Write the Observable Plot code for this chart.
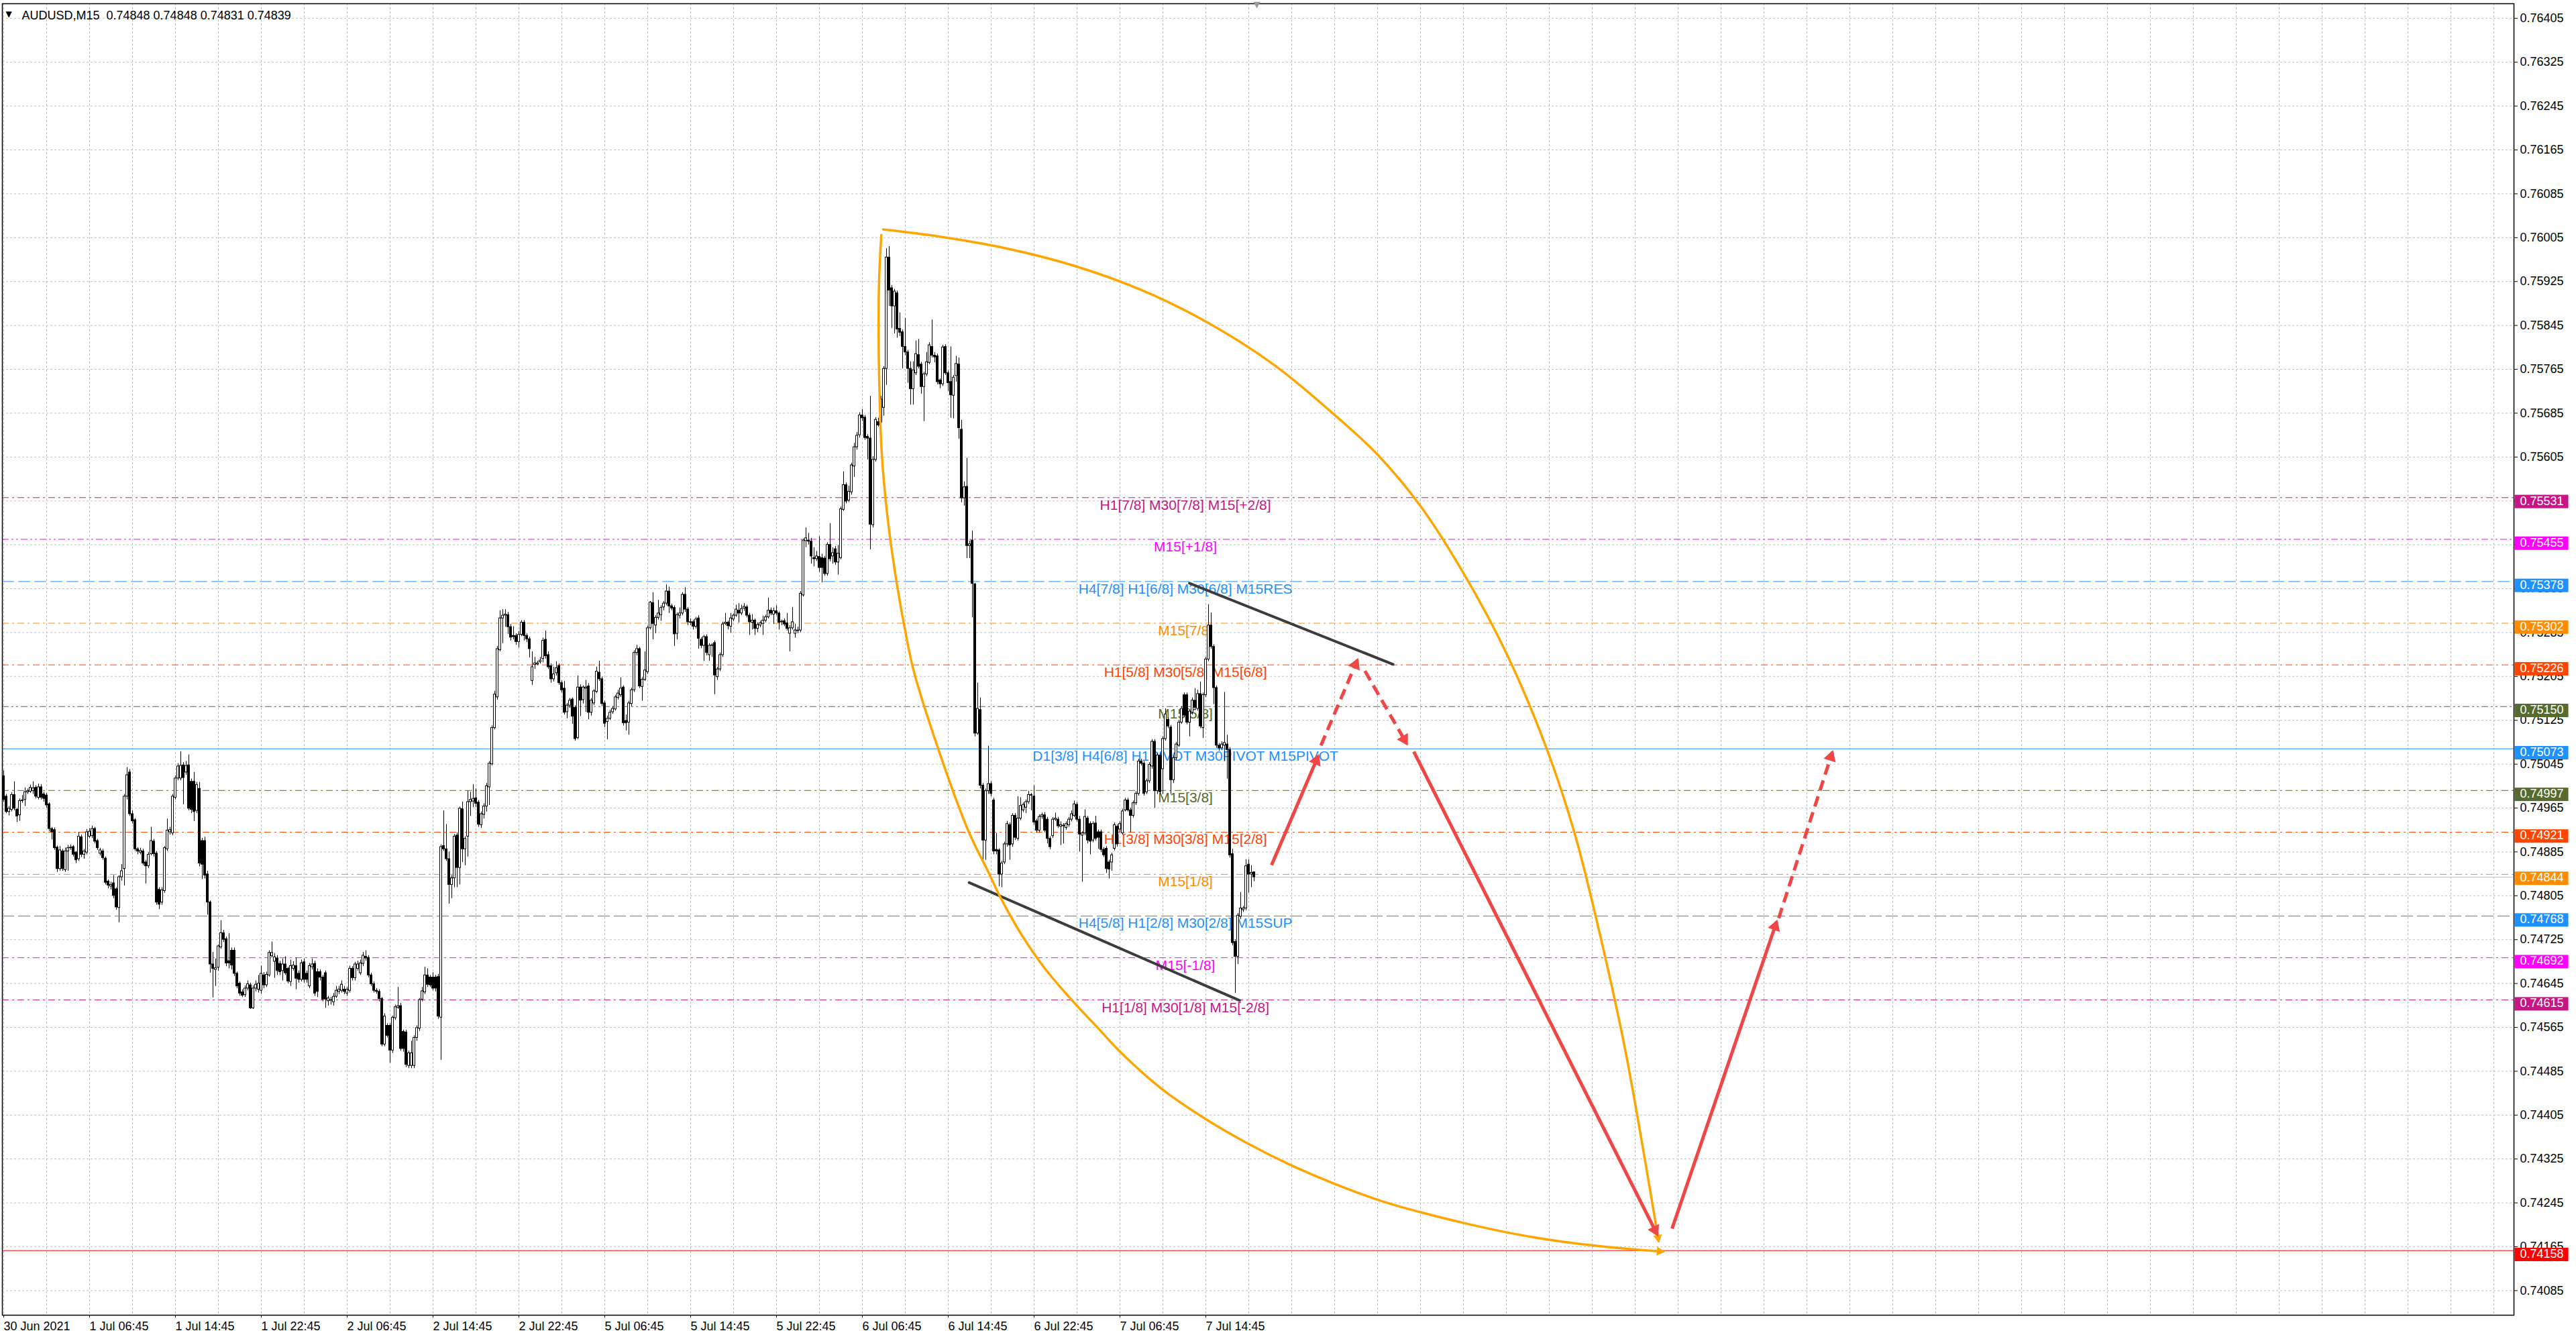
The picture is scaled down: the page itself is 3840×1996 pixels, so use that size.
<!DOCTYPE html>
<html>
<head>
<meta charset="utf-8">
<script src="https://cdn.jsdelivr.net/npm/d3@7"></script>
<script src="https://cdn.jsdelivr.net/npm/@observablehq/plot@0.6"></script>
<style>
  html, body { margin: 0; padding: 0; background: #fff; overflow: hidden; }
</style>
</head>
<body>
<div id="chart"></div>
<script>
// AUDUSD M15, one value per bar, in points above 0.74000
const symbol = "AUDUSD,M15";
const O = [1023,986,958,962,989,962,952,978,980,994, 995,996,1002,984,1003,990,988,972,927,925, 893,854,886,852,886,892,894,884,872,912, 880,884,913,914,927,905,882,886,873,831, 822,828,817,783,839,854,986,1030,954,943, 890,884,886,866,859,881,904,882,816,793, 814,890,921,919,984,1019,1019,1043,1030,1043, 1013,1013,960,1000,905,905,844,793,680,670, 674,711,737,726,686,705,705,663,645,629, 624,636,642,600,636,634,632,660,642,660, 695,685,691,681,668,680,672,648,672,677, 663,652,684,663,640,675,681,666,666,656, 664,613,614,611,621,630,632,634,627,632, 672,655,672,664,681,694,692,660,644,632, 630,617,534,568,568,523,582,601,604,557, 556,495,495,495,546,563,616,629,660,656, 656,656,657,583,896,890,872,825,837,915, 856,963,890,913,976,977,983,975,934,953, 968,1003,1045,1111,1167,1253,1311,1316,1317,1295, 1279,1279,1268,1281,1303,1279,1273,1197,1226,1227, 1231,1237,1272,1244,1224,1200,1211,1224,1193,1183, 1140,1152,1163,1148,1093,1185,1162,1183,1187,1139, 1156,1177,1212,1200,1156,1122,1128,1140,1145,1166, 1171,1185,1124,1121,1155,1180,1248,1255,1186,1199, 1213,1293,1339,1298,1312,1317,1331,1338,1360,1333, 1330,1283,1316,1320,1354,1327,1304,1304,1296,1311, 1272,1261,1277,1244,1261,1266,1204,1218,1244,1301, 1303,1296,1309,1316,1325,1320,1329,1331,1316,1303, 1307,1292,1298,1301,1307,1313,1325,1318,1324,1320, 1305,1306,1302,1283,1293,1283,1288,1289,1353,1452, 1453,1451,1421,1419,1423,1421,1420,1392,1445,1424, 1437,1413,1421,1509,1554,1526,1541,1588,1623,1645, 1681,1677,1642,1639,1481,1600,1669,1668,1695,1766, 1969,1913,1880,1904,1839,1833,1806,1796,1766,1729, 1758,1791,1774,1733,1756,1777,1806,1790,1789,1745, 1738,1806,1758,1742,1717,1753,1774,1655,1530,1551, 1443,1453,1373,1101,1144,1006,906,996,1009,979, 889,888,844,866,899,934,899,951,909,946, 961,966,976,989,986,941,924,949,952,944, 909,914,944,944,931,933,929,934,944,951, 971,944,915,919,946,936,906,937,921,921, 889,891,866,866,891,931,926,919,961,979, 961,951,974,991,1050,1046,994,1014,1041,1086, 996,1061,1036,1091,1126,1112,1016,1056,1079,1121, 1171,1171,1121,1139,1161,1146,1173,1111,1171,1236, 1298,1259,1184,1079,1074,1079,1081,1071,881,721, 694,767,779,782,862,844,848];
const H = [1033,990,968,993,1013,965,982,988,1002,1000, 1007,1013,1006,1009,1008,994,992,975,930,929, 896,895,890,892,897,898,897,886,921,916, 890,926,928,932,930,908,892,890,876,834, 830,842,820,842,862,990,1039,1035,960,946, 893,892,890,870,884,930,908,886,820,820, 895,945,930,990,1024,1046,1068,1048,1050,1062, 1018,1030,1012,1012,910,912,850,796,702,690, 716,760,742,730,736,710,710,666,648,634, 641,650,646,641,650,660,677,665,666,705, 721,700,696,686,690,694,675,688,685,692, 668,688,690,668,682,690,686,672,670,660, 668,622,620,627,640,640,650,640,638,677, 676,684,686,688,702,705,696,664,648,636, 634,620,590,572,572,586,606,638,609,560, 560,522,540,550,568,618,638,675,672,660, 665,660,662,898,960,935,885,842,917,920, 967,976,913,996,994,1008,1000,979,958,973, 1010,1050,1115,1178,1260,1325,1327,1327,1322,1300, 1296,1283,1287,1307,1307,1283,1277,1250,1240,1233, 1240,1275,1288,1250,1228,1222,1232,1228,1197,1196, 1156,1165,1166,1152,1206,1190,1188,1198,1192,1165, 1181,1222,1233,1204,1160,1133,1144,1150,1171,1180, 1203,1188,1135,1160,1184,1252,1262,1258,1203,1250, 1297,1342,1358,1316,1344,1334,1342,1372,1368,1337, 1334,1321,1330,1358,1367,1331,1310,1308,1313,1316, 1276,1280,1281,1265,1265,1270,1222,1248,1304,1320, 1306,1320,1319,1335,1338,1335,1338,1335,1320,1318, 1310,1303,1306,1315,1317,1348,1330,1330,1334,1323, 1308,1310,1320,1298,1331,1300,1295,1360,1456,1476, 1466,1457,1440,1433,1460,1428,1424,1449,1484,1440, 1442,1444,1514,1578,1558,1552,1594,1630,1650,1686, 1692,1681,1646,1716,1606,1677,1676,1716,1770,1985, 1989,1918,1911,1908,1868,1837,1858,1800,1779,1779, 1817,1820,1778,1760,1796,1814,1855,1796,1793,1748, 1809,1810,1762,1806,1754,1789,1786,1672,1560,1603, 1452,1470,1375,1193,1166,1010,1000,1078,1013,983, 919,891,868,903,941,938,955,955,986,984, 975,980,996,992,1006,945,953,956,957,948, 913,948,956,948,940,937,940,948,960,978, 975,950,922,962,950,940,940,950,925,925, 893,895,870,883,938,935,940,963,983,983, 965,978,995,1054,1054,1050,1018,1048,1090,1090, 1065,1065,1095,1146,1130,1116,1060,1085,1125,1150, 1175,1175,1145,1166,1183,1180,1195,1175,1240,1336, 1321,1263,1188,1083,1086,1176,1098,1075,890,725, 773,811,786,871,871,860,848];
const L = [976,955,951,958,960,939,941,974,968,990, 992,990,982,980,980,976,965,922,907,888, 848,850,850,848,850,888,876,864,868,875, 872,880,910,910,900,888,878,870,825,818, 816,800,779,756,832,823,980,950,936,886, 880,880,860,827,855,878,876,788,780,788, 810,886,916,915,980,1015,1015,971,1025,960, 955,941,955,858,835,836,770,664,619,640, 668,708,720,676,672,670,658,636,622,620, 620,632,598,598,630,628,626,636,638,657, 692,655,660,660,650,660,645,640,668,634, 646,648,646,646,636,670,622,620,650,612, 600,604,606,604,618,625,628,625,622,628, 650,650,668,660,676,686,656,640,628,626, 612,530,530,546,500,518,578,598,522,520, 492,490,490,490,540,558,612,625,638,638, 632,630,580,505,886,868,790,800,820,820, 825,866,860,876,950,966,966,930,928,945, 958,970,1042,1108,1162,1250,1265,1295,1282,1270, 1272,1262,1257,1278,1270,1267,1239,1189,1218,1225, 1228,1230,1237,1218,1193,1195,1206,1189,1175,1135, 1128,1147,1118,1087,1090,1132,1155,1140,1126,1133, 1152,1174,1196,1150,1112,1090,1125,1136,1142,1162, 1167,1115,1106,1098,1150,1176,1243,1183,1160,1196, 1209,1290,1272,1283,1308,1306,1325,1334,1320,1325, 1260,1272,1310,1316,1322,1298,1298,1290,1292,1255, 1256,1233,1243,1233,1240,1172,1198,1214,1240,1298, 1290,1284,1305,1313,1303,1316,1324,1312,1280,1290, 1280,1285,1294,1280,1303,1310,1316,1300,1316,1290, 1298,1296,1288,1250,1290,1275,1283,1285,1350,1440, 1445,1410,1405,1415,1395,1376,1388,1388,1414,1410, 1408,1390,1418,1506,1520,1522,1536,1568,1618,1640, 1670,1636,1600,1436,1476,1596,1660,1664,1680,1736, 1880,1840,1830,1822,1825,1766,1790,1740,1700,1700, 1754,1766,1720,1670,1752,1774,1786,1777,1737,1730, 1734,1754,1725,1676,1675,1742,1638,1522,1516,1420, 1420,1312,1095,1098,1000,870,870,990,986,880, 880,822,820,862,894,870,894,906,905,942, 957,955,972,960,934,920,920,945,920,900, 889,910,941,928,897,900,925,930,940,948, 940,885,830,915,900,880,902,905,890,884, 875,846,836,850,887,894,920,916,958,958, 920,947,970,987,1042,987,990,1010,1036,965, 990,990,990,1087,1110,990,1010,1052,1076,1118, 1130,1117,1095,1135,1144,1142,1110,1092,1167,1232, 1255,1154,1074,1069,1070,1050,1018,874,714,627, 680,762,775,778,810,820,831];
const C = [980,958,964,989,964,950,978,979,994,996, 1002,1001,986,1003,984,982,970,927,921,892, 854,888,854,886,892,893,880,870,913,880, 886,921,922,927,904,892,888,874,829,824, 825,805,784,839,850,986,1025,954,941,890, 886,887,864,859,880,905,881,793,789,815, 892,924,925,986,1019,1041,1042,1020,1042,964, 962,958,1007,864,862,842,793,680,672,673, 713,737,725,682,682,678,663,640,627,623, 636,644,600,636,643,645,663,642,661,701, 701,693,668,666,680,664,649,677,678,654, 652,682,652,652,677,680,627,630,656,616, 616,618,615,621,632,634,643,630,634,672, 655,680,680,682,696,691,660,644,632,630, 617,534,585,550,523,583,602,604,526,526, 497,518,518,546,564,615,631,660,643,642, 636,636,585,894,890,872,825,837,913,856, 964,890,909,976,980,982,973,935,954,968, 1005,1046,1111,1172,1255,1311,1316,1318,1295,1276, 1277,1268,1281,1303,1279,1273,1255,1222,1229,1229, 1234,1270,1242,1222,1200,1209,1220,1193,1180,1139, 1152,1161,1132,1091,1185,1161,1185,1185,1139,1161, 1178,1214,1200,1155,1119,1128,1139,1146,1167,1174, 1183,1120,1120,1156,1180,1248,1255,1187,1199,1216, 1293,1340,1301,1312,1320,1330,1338,1360,1333,1329, 1282,1317,1320,1354,1327,1304,1303,1296,1309,1274, 1261,1277,1248,1261,1262,1207,1218,1244,1300,1303, 1297,1311,1316,1327,1320,1328,1332,1316,1304,1307, 1292,1299,1302,1307,1313,1325,1320,1324,1320,1303, 1304,1300,1292,1293,1304,1289,1289,1356,1453,1457, 1451,1424,1419,1424,1403,1403,1392,1445,1419,1430, 1413,1429,1510,1554,1524,1542,1590,1623,1644,1681, 1676,1640,1639,1482,1600,1673,1663,1710,1766,1969, 1909,1880,1907,1838,1832,1806,1796,1766,1729,1763, 1793,1770,1733,1756,1778,1809,1790,1787,1742,1738, 1805,1758,1740,1718,1750,1775,1658,1530,1550,1443, 1446,1374,1101,1146,1006,906,996,1009,991,886, 886,844,864,899,936,897,951,911,946,969, 971,976,989,988,939,924,949,952,924,909, 894,944,946,932,934,932,936,944,954,972, 944,917,919,949,906,904,936,909,911,889, 879,854,853,879,934,899,936,959,979,961, 951,974,991,1050,1046,991,1014,1044,1086,996, 1061,994,1091,1136,1114,1016,1056,1081,1121,1146, 1134,1121,1141,1161,1148,1173,1114,1171,1236,1298, 1259,1184,1079,1074,1081,1084,1071,879,719,694, 769,782,782,859,844,847,839];

// time axis: bar index of each label
const xTickBars = [0, 32, 64, 96, 128, 160, 192, 224, 256, 288, 320, 352, 384, 416, 448];
const xTickLabels = ["30 Jun 2021", "1 Jul 06:45", "1 Jul 14:45", "1 Jul 22:45", "2 Jul 06:45",
  "2 Jul 14:45", "2 Jul 22:45", "5 Jul 06:45", "5 Jul 14:45", "5 Jul 22:45", "6 Jul 06:45",
  "6 Jul 14:45", "6 Jul 22:45", "7 Jul 06:45", "7 Jul 14:45"];
const yTicks = [0.76405, 0.76325, 0.76245, 0.76165, 0.76085, 0.76005, 0.75925, 0.75845, 0.75765,
  0.75685, 0.75605, 0.75525, 0.75445, 0.75365, 0.75285, 0.75205, 0.75125, 0.75045, 0.74965,
  0.74885, 0.74805, 0.74725, 0.74645, 0.74565, 0.74485, 0.74405, 0.74325, 0.74245, 0.74165, 0.74085];

// murrey levels
const levelPrice = [0.75531, 0.75455, 0.75378, 0.75302, 0.75226, 0.75150, 0.75073,
  0.74997, 0.74921, 0.74844, 0.74768, 0.74692, 0.74615];
const levelKind = ["p2", "p1", "res", "n7", "n6", "n5", "pivot", "n3", "n2", "n1", "sup", "m1", "m2"];
const levelText = ["H1[7/8] M30[7/8] M15[+2/8]", "M15[+1/8]", "H4[7/8] H1[6/8] M30[6/8] M15RES",
  "M15[7/8]", "H1[5/8] M30[5/8] M15[6/8]", "M15[5/8]", "D1[3/8] H4[6/8] H1PIVOT M30PIVOT M15PIVOT",
  "M15[3/8]", "H1[3/8] M30[3/8] M15[2/8]", "M15[1/8]", "H4[5/8] H1[2/8] M30[2/8] M15SUP",
  "M15[-1/8]", "H1[1/8] M30[1/8] M15[-2/8]"];
const targetPrice = 0.74158;

// drawn objects: [bar, price]
const arcLeft = [[327.08, 0.7601], [326.25, 0.75928], [326.08, 0.75822], [326.43, 0.75716],
  [327.25, 0.7561], [329.18, 0.75504], [332.08, 0.75398], [335.83, 0.75292], [339.58, 0.75207],
  [358.75, 0.74932], [367.08, 0.74847], [371.25, 0.74804], [379.58, 0.74732], [387.93, 0.74673],
  [398.75, 0.74611], [407.38, 0.74566], [415.98, 0.74521], [431.78, 0.74452], [447.58, 0.74399],
  [463.38, 0.74354], [479.18, 0.74315], [496.4, 0.74279], [513.63, 0.74248], [528, 0.74228],
  [545.23, 0.74207], [562.45, 0.74189], [579.68, 0.74175], [596.9, 0.74165], [618.45, 0.74156]];
const arcRight = [[327.75, 0.7602], [348.75, 0.76007], [371.25, 0.75988], [398.75, 0.75954],
  [423.75, 0.7591], [448.75, 0.7585], [473.75, 0.75772], [498.75, 0.7567],
  [512.08, 0.75609], [527.93, 0.75516], [544.18, 0.75392], [560.43, 0.75243], [575.43, 0.75068],
  [585.43, 0.74919], [595.43, 0.74723], [604.18, 0.74527], [612.08, 0.74311], [616.75, 0.74175]];
const trendLines = [[441.9, 0.75375, 517.8, 0.75227], [359.8, 0.74829, 460.6, 0.74614]];
const arrowsSolid = [[472.5, 0.74861, 489.9, 0.7506], [525.5, 0.75068, 616.25, 0.74187],
  [621.75, 0.74198, 660.75, 0.74758]];
const arrowsDashed = [[490.9, 0.75079, 504.5, 0.75235], [507.3, 0.75215, 522.9, 0.75082],
  [661.5, 0.74764, 681.5, 0.75067]];

// styles
const dashDot = "10,5,3,5";
const dashDotDot = "10,4,3,4,3,4";
const levelStyle = {
  p2: {color: "#C71585", dash: dashDot}, m2: {color: "#C71585", dash: dashDot},
  p1: {color: "#FF00FF", dash: dashDotDot}, m1: {color: "#FF00FF", dash: dashDot},
  res: {color: "#1E90FF", dash: "18,6"}, sup: {color: "#1E90FF", dash: "18,6"},
  n7: {color: "#FF8C00", dash: dashDot}, n1: {color: "#FF8C00", dash: dashDot},
  n6: {color: "#FF4500", dash: dashDot}, n2: {color: "#FF4500", dash: dashDot},
  n5: {color: "#556B2F", dash: dashDotDot}, n3: {color: "#556B2F", dash: dashDot},
  pivot: {color: "#1E90FF", dash: null}
};
const labelBar = 440.4;
const red = "#F04646";
const orange = "#FFA500";
const grey = "#c0c0c0";

// plot geometry
const W = 3840, HT = 1996, mL = 3, mR = 93, mT = 5, mB = 36;
const xDomain = [-0.5, 935.5];
const yDomain = [0.740402, 0.764317];
const kx = (W - mL - mR) / (xDomain[1] - xDomain[0]);
const ky = (HT - mT - mB) / (yDomain[1] - yDomain[0]);

const px = (v) => 0.74 + v / 1e5;
const f5 = d3.format(".5f");
const bars = C.map((c, i) => ({i, o: px(O[i]), h: px(H[i]), l: px(L[i]), c: px(c)}));
const last = bars[bars.length - 1];
const levels = levelPrice.map((p, k) => ({p, kind: levelKind[k], text: levelText[k]}));
const boxes = levels.map((d) => ({p: d.p, color: levelStyle[d.kind].color}))
  .concat([{p: targetPrice, color: "#FF0000"}]);
const pts = (a) => a.map(([i, p]) => ({i, p}));
const segs = (a) => a.map(([i1, p1, i2, p2]) => ({i1, p1, i2, p2}));

// a filled triangle whose tip sits on the end of the segment
function head(i1, p1, i2, p2, size) {
  const dx = (i2 - i1) * kx, dy = -(p2 - p1) * ky;
  const len = Math.hypot(dx, dy);
  const back = size * 1.1;
  return {
    i: i2 - (dx / len) * back / kx,
    p: p2 + (dy / len) * back / ky,
    rotate: (Math.atan2(dx, -dy) * 180) / Math.PI
  };
}
const arrowHeads = segs(arrowsSolid.concat(arrowsDashed)).map((d) => head(d.i1, d.p1, d.i2, d.p2, 7));
const arcHeads = [
  head(...arcRight[arcRight.length - 2], ...arcRight[arcRight.length - 1], 5),
  head(...arcLeft[arcLeft.length - 2], ...arcLeft[arcLeft.length - 1], 5)
];

const chart = Plot.plot({
  width: W,
  height: HT,
  marginLeft: mL,
  marginRight: mR,
  marginTop: mT,
  marginBottom: mB,
  x: {domain: xDomain},
  y: {domain: yDomain},
  style: {
    fontFamily: "'Liberation Sans', Arial, sans-serif",
    fontSize: "18px",
    background: "white",
    color: "black"
  },
  marks: [
    Plot.gridX(d3.range(0, 936, 16), {stroke: grey, strokeOpacity: 1, strokeDasharray: "3,3"}),
    Plot.gridY(yTicks, {stroke: grey, strokeOpacity: 1, strokeDasharray: "3,3"}),
    ...Object.keys(levelStyle).map((kind) =>
      Plot.ruleY(levels.filter((d) => d.kind === kind), {
        y: "p", stroke: levelStyle[kind].color, strokeDasharray: levelStyle[kind].dash
      })),
    Plot.ruleY([last.c], {stroke: grey}),
    Plot.ruleY([targetPrice], {stroke: "#FF0000"}),
    Plot.text(levels, {
      x: labelBar, y: "p", text: "text", fill: (d) => levelStyle[d.kind].color,
      fontSize: 21, lineAnchor: "top", dy: 3
    }),
    // candles
    Plot.ruleX(bars, {x: "i", y1: "l", y2: "h", stroke: "black", strokeWidth: 1}),
    Plot.rect(bars.filter((d) => d.c >= d.o), {
      x1: (d) => d.i - 0.375, x2: (d) => d.i + 0.375, y1: "o", y2: "c",
      fill: "white", stroke: "black", strokeWidth: 1
    }),
    Plot.rect(bars.filter((d) => d.c < d.o), {
      x1: (d) => d.i - 0.375, x2: (d) => d.i + 0.375, y1: "o", y2: "c",
      fill: "black", stroke: "black", strokeWidth: 1
    }),
    // drawings
    Plot.link(segs(trendLines), {
      x1: "i1", y1: "p1", x2: "i2", y2: "p2", stroke: "#3c3c3c", strokeWidth: 4, strokeLinecap: "round"
    }),
    Plot.line(pts(arcLeft), {x: "i", y: "p", stroke: orange, strokeWidth: 3.5, curve: "catmull-rom"}),
    Plot.line(pts(arcRight), {x: "i", y: "p", stroke: orange, strokeWidth: 3.5, curve: "catmull-rom"}),
    Plot.dot(arcHeads, {x: "i", y: "p", rotate: "rotate", symbol: "triangle", r: 5, fill: orange, stroke: null}),
    Plot.link(segs(arrowsSolid), {
      x1: "i1", y1: "p1", x2: "i2", y2: "p2", stroke: red, strokeWidth: 5
    }),
    Plot.link(segs(arrowsDashed), {
      x1: "i1", y1: "p1", x2: "i2", y2: "p2", stroke: red, strokeWidth: 5, strokeDasharray: "16,9"
    }),
    Plot.dot(arrowHeads, {x: "i", y: "p", rotate: "rotate", symbol: "triangle", r: 7, fill: red, stroke: null}),
    Plot.frame({stroke: "black", strokeWidth: 1.5}),
    // axes
    Plot.axisY({
      anchor: "right", ticks: yTicks, tickFormat: f5, tickSize: 5, tickPadding: 4, label: null
    }),
    Plot.axisX({
      ticks: xTickBars, tickFormat: (d) => xTickLabels[xTickBars.indexOf(d)], tickSize: 4,
      tickPadding: 6, textAnchor: "start", label: null
    }),
    Plot.text(boxes, {
      y: "p", frameAnchor: "right", text: (d) => f5(d.p), textAnchor: "start",
      dx: 9, dy: 5, fill: "#fffffe"
    }),
    // header
    Plot.text(["\u25BC"], {
      frameAnchor: "top-left", dx: 5, dy: 11, textAnchor: "start", lineAnchor: "top",
      fontSize: 12, fontFamily: "'DejaVu Sans', sans-serif"
    }),
    Plot.text([`${symbol}  ${f5(last.o)} ${f5(last.h)} ${f5(last.l)} ${f5(last.c)}`], {
      frameAnchor: "top-left", dx: 29, dy: 11, textAnchor: "start", lineAnchor: "top"
    }),
    Plot.text(["\u25BC"], {
      x: bars.length, frameAnchor: "top", lineAnchor: "top", dy: -4, fill: "#9a9a9a",
      fontSize: 13, fontFamily: "'DejaVu Sans', sans-serif"
    })
  ]
});

document.querySelector("#chart").append(chart);

// coloured boxes behind the level values on the price axis
const boxTexts = [];
chart.querySelectorAll("g").forEach((g) => {
  if ((g.getAttribute("fill") || "").toLowerCase() === "#fffffe") {
    g.querySelectorAll("text").forEach((t) => boxTexts.push(t));
  }
});
boxTexts.forEach((t, k) => {
  const b = t.getBBox();
  const r = document.createElementNS("http://www.w3.org/2000/svg", "rect");
  r.setAttribute("x", b.x - 8);
  r.setAttribute("y", b.y + 1);
  r.setAttribute("width", b.width + 15);
  r.setAttribute("height", b.height);
  r.setAttribute("fill", boxes[k].color);
  const tr = t.getAttribute("transform");
  if (tr) r.setAttribute("transform", tr);
  t.parentNode.insertBefore(r, t);
});
</script>
</body>
</html>
